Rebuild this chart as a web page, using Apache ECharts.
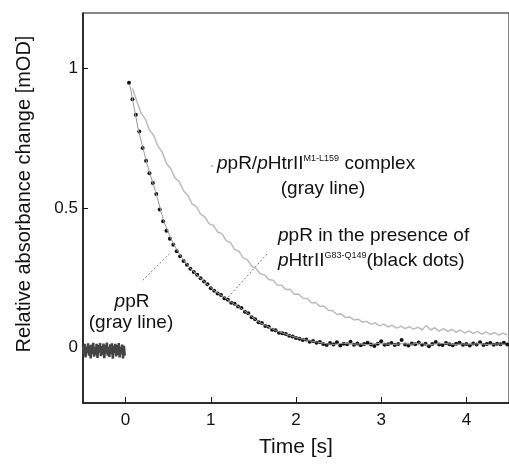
<!DOCTYPE html>
<html>
<head>
<meta charset="utf-8">
<script src="https://cdn.jsdelivr.net/npm/echarts@6/dist/echarts.min.js"></script>
<style>
  html, body { margin: 0; padding: 0; background: #fff; }
  #chart { width: 509px; height: 467px; }
</style>
</head>
<body>
<div id="chart"></div>
<script>
// time axis ticks
const xTicks = [0, 1, 2, 3, 4];
const yTicks = [0, 0.5, 1];

// ppR alone, before the flash (dense noisy trace)
const preStart = -0.5, preStep = 0.01;
const preY = [
  0.008, -0.028, 0.012, -0.036, 0.002, -0.02, 0.014, -0.03, 0.006, -0.04,
  0.01, -0.024, 0.016, -0.034, 0.0, -0.028, 0.012, -0.038, 0.008, -0.018,
  0.015, -0.032, 0.004, -0.026, 0.013, -0.039, 0.009, -0.022, 0.017, -0.03,
  0.001, -0.035, 0.011, -0.025, 0.014, -0.041, 0.006, -0.02, 0.012, -0.033,
  0.008, -0.027, 0.015, -0.036, 0.002, -0.023, 0.01, -0.04, 0.005, -0.03
];

// ppR alone, after the flash (gray line, under the black dots)
const pprStart = 0.05, pprStep = 0.1;
const pprY = [
  0.94, 0.78, 0.66, 0.56, 0.45, 0.378, 0.325, 0.287, 0.256, 0.228,
  0.201, 0.181, 0.16, 0.141, 0.118, 0.093, 0.077, 0.062, 0.05, 0.04,
  0.031, 0.024, 0.019, 0.013, 0.01, 0.015, 0.011, 0.012, 0.009, 0.014,
  0.012, 0.01, 0.013, 0.011, 0.015, 0.009, 0.012, 0.014, 0.01, 0.012,
  0.011, 0.013, 0.01, 0.012, 0.011
];

// ppR/pHtrII(M1-L159) complex (light gray line)
const cpxStart = 0.08, cpxStep = 0.05;
const cpxY = [
  0.93, 0.885, 0.842, 0.82, 0.78, 0.76, 0.722, 0.7, 0.66, 0.641,
  0.608, 0.594, 0.562, 0.545, 0.515, 0.505, 0.478, 0.468, 0.443, 0.438,
  0.414, 0.408, 0.383, 0.376, 0.351, 0.345, 0.321, 0.314, 0.291, 0.283,
  0.264, 0.26, 0.243, 0.241, 0.224, 0.223, 0.207, 0.208, 0.19, 0.191,
  0.176, 0.175, 0.16, 0.161, 0.147, 0.147, 0.133, 0.131, 0.118, 0.12,
  0.107, 0.109, 0.098, 0.101, 0.09, 0.093, 0.083, 0.088, 0.077, 0.083,
  0.073, 0.079, 0.069, 0.076, 0.067, 0.074, 0.065, 0.072, 0.063, 0.078,
  0.062, 0.07, 0.058, 0.067, 0.057, 0.064, 0.054, 0.062, 0.051, 0.059,
  0.049, 0.057, 0.047, 0.055, 0.046, 0.053, 0.044, 0.051, 0.045
];

// ppR in the presence of pHtrII(G83-Q149) (black dots)
const dotStart = 0.04, dotStep = 0.04;
const dotY = [
  0.95, 0.89, 0.835, 0.775, 0.715, 0.67, 0.625, 0.59, 0.55, 0.495,
  0.452, 0.418, 0.39, 0.368, 0.345, 0.327, 0.31, 0.296, 0.282, 0.27,
  0.26, 0.248, 0.236, 0.226, 0.212, 0.203, 0.193, 0.188, 0.176, 0.171,
  0.16, 0.156, 0.146, 0.141, 0.128, 0.122, 0.108, 0.101, 0.09, 0.087,
  0.076, 0.074, 0.063, 0.061, 0.052, 0.05, 0.048, 0.041, 0.039, 0.033,
  0.031, 0.026, 0.028, 0.02, 0.023, 0.016, 0.019,
  0.012, 0.008, 0.015, 0.01, 0.018, 0.006, 0.013, 0.011, 0.02, 0.009,
  0.014, 0.007, 0.012, 0.016, 0.01, 0.005, 0.013, 0.022, 0.009, 0.011,
  0.015, 0.008, 0.012, 0.026, 0.01, 0.006, 0.014, 0.011, 0.017, 0.009,
  0.013, 0.004, 0.012, 0.019, 0.01, 0.008, 0.015, 0.011, 0.007, 0.013,
  0.016, 0.009, 0.012, 0.006, 0.014, 0.01, 0.018, 0.008, 0.012, 0.015,
  0.009, 0.013, 0.011, 0.016, 0.01
];

// leader lines, in data units
const leaders = [
  [[0.2, 0.24], [0.53, 0.34]],
  [[1.66, 0.335], [1.19, 0.175]],
  [[1.0, 0.65], [1.04, 0.652]]
];

const FONT = '"Liberation Sans", Arial, sans-serif';

function pairs(t0, dt, ys) {
  return ys.map((y, i) => [+(t0 + i * dt).toFixed(3), y]);
}

const rich = {
  i: { fontStyle: 'italic', fontSize: 19, fontFamily: FONT, fill: '#111' },
  s: { fontSize: 9, fontFamily: FONT, fill: '#111', padding: [0, 0, 10, 0] }
};

function label(text, x, y, align) {
  return {
    type: 'text', x: x, y: y, silent: true,
    style: {
      text: text, fill: '#111', fontSize: 19, fontFamily: FONT,
      align: align || 'left', verticalAlign: 'middle', rich: rich
    }
  };
}

const chart = echarts.init(document.getElementById('chart'));
chart.setOption({
  animation: false,
  backgroundColor: '#fff',
  grid: { left: 83, right: -2, top: 13, bottom: 64, show: true, borderColor: '#111', borderWidth: 1 },
  xAxis: {
    type: 'value', min: -0.5, max: 4.5,
    name: 'Time [s]', nameLocation: 'middle', nameGap: 34,
    nameTextStyle: { fontSize: 21, fontFamily: FONT, color: '#111' },
    axisLine: { onZero: false, lineStyle: { color: '#111', width: 1.5 } },
    axisTick: { inside: true, length: 6, customValues: xTicks, lineStyle: { color: '#111' } },
    axisLabel: { customValues: xTicks, fontSize: 17, fontFamily: FONT, color: '#111', margin: 9 },
    splitLine: { show: false }
  },
  yAxis: {
    type: 'value', min: -0.2, max: 1.2,
    axisLine: { onZero: false, lineStyle: { color: '#111', width: 1.5 } },
    axisTick: { inside: true, length: 5, customValues: yTicks, lineStyle: { color: '#111' } },
    axisLabel: { customValues: yTicks, fontSize: 17, fontFamily: FONT, color: '#111', margin: 5 },
    splitLine: { show: false }
  },
  graphic: [
    {
      type: 'text', x: 24, y: 194, rotation: Math.PI / 2, silent: true,
      style: {
        text: 'Relative absorbance change [mOD]', fill: '#111',
        font: '20px ' + FONT, align: 'center', verticalAlign: 'middle'
      }
    },
    label('{i|p}pR/{i|p}HtrII{s|M1-L159} complex', 217, 164),
    label('(gray line)', 323, 189, 'center'),
    label('{i|p}pR in the presence of', 278, 236),
    label('{i|p}HtrII{s|G83-Q149}(black dots)', 278, 261),
    label('{i|p}pR', 132, 302, 'center'),
    label('(gray line)', 131, 323, 'center')
  ],
  series: [
    {
      name: 'ppR (before flash)', type: 'line', data: pairs(preStart, preStep, preY),
      showSymbol: false,
      lineStyle: { color: '#444', width: 2.5 }
    },
    {
      name: 'ppR', type: 'line', data: pairs(pprStart, pprStep, pprY),
      showSymbol: false,
      lineStyle: { color: '#999', width: 1 }
    },
    {
      name: 'ppR/pHtrII complex', type: 'line', data: pairs(cpxStart, cpxStep, cpxY),
      showSymbol: false,
      lineStyle: { color: '#bbb', width: 1.5 },
      markLine: {
        silent: true, symbol: 'none', label: { show: false },
        lineStyle: { color: '#777', width: 1, type: [2, 2] },
        data: leaders.map(l => [{ coord: l[0] }, { coord: l[1] }])
      }
    },
    {
      name: 'ppR + pHtrII', type: 'scatter', data: pairs(dotStart, dotStep, dotY),
      symbolSize: 4,
      itemStyle: { color: '#111', opacity: 1 }
    }
  ]
});
</script>
</body>
</html>
